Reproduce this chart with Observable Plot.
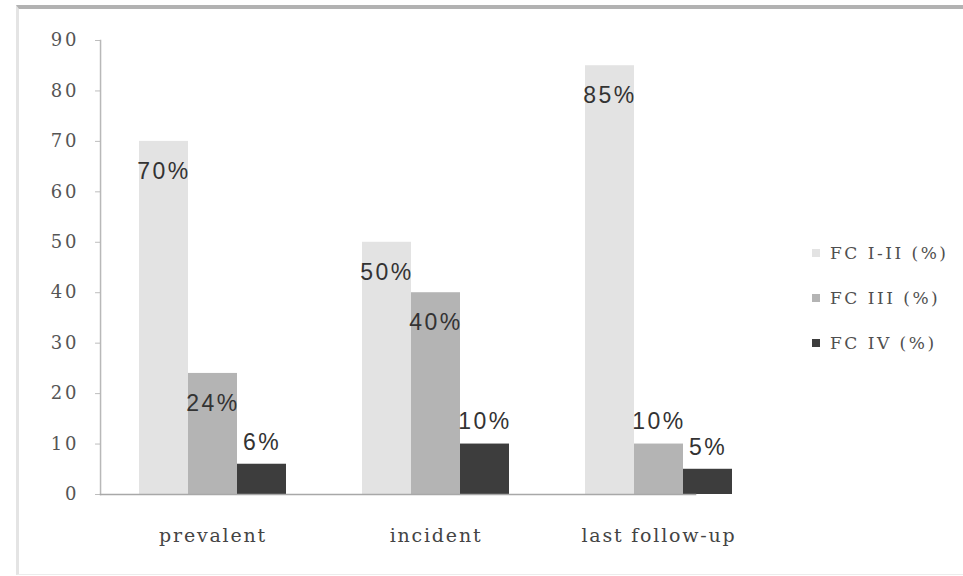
<!DOCTYPE html>
<html>
<head>
<meta charset="utf-8">
<script src="https://cdn.jsdelivr.net/npm/d3@7"></script>
<script src="https://cdn.jsdelivr.net/npm/@observablehq/plot@0.6"></script>
<style>
  html, body { margin: 0; padding: 0; background: #ffffff; }
  #chart {
    position: relative;
    width: 963px;
    height: 576px;
    overflow: hidden;
  }
  #border {
    position: absolute;
    left: 16px; top: 5px; right: 0; bottom: 1px;
    border-top: 4px solid #b2b2b2;
    border-left: 3px solid #e4e4e4;
    border-bottom: 1px solid #ececec;
    box-sizing: border-box;
  }
  #chart svg { position: absolute; left: 0; top: 0; }
  #chart g[aria-label="y-axis tick label"] text { letter-spacing: 3px; }
  #chart g[aria-label="fx-axis tick label"] text { letter-spacing: 1.8px; }
  #chart g.value-label text { letter-spacing: 2.5px; }
  #legend {
    position: absolute;
    left: 812px;
    top: 230px;
    font-family: "DejaVu Serif", serif;
    font-size: 17px;
    letter-spacing: 2.5px;
    color: #4f4f4f;
  }
  #legend .item { display: flex; align-items: center; height: 45px; }
  #legend .swatch { width: 8px; height: 8px; margin-right: 10px; }
</style>
</head>
<body>
<div id="chart"><div id="border"></div></div>
<script>
// Categories, series and values
const categories = ["prevalent", "incident", "last follow-up"];
const series = ["FC I-II (%)", "FC III (%)", "FC IV (%)"];
const fcI_II = [70, 50, 85];
const fcIII = [24, 40, 10];
const fcIV = [6, 10, 5];
const yTicks = [0, 10, 20, 30, 40, 50, 60, 70, 80, 90];
const seriesColors = ["#e3e3e3", "#b4b4b4", "#3d3d3d"];

// Long-format rows for the grouped bars
const seriesValues = [fcI_II, fcIII, fcIV];
const rows = [];
categories.forEach((category, i) => {
  series.forEach((s, j) => {
    rows.push({category, series: s, value: seriesValues[j][i]});
  });
});

// Layout
const width = 963, height = 576;
const margin = {left: 100, right: 191, top: 40, bottom: 82};
const fxPaddingInner = 0.33, fxPaddingOuter = 0.17;
// The y axis sits at the left edge of the whole frame, not of the first group
const fxStep = (width - margin.left - margin.right) /
  (categories.length - fxPaddingInner + 2 * fxPaddingOuter);
const firstGroupOffset = fxStep * fxPaddingOuter;

const labelFont = {fontFamily: "'Liberation Sans', Arial, sans-serif", fontSize: 23, fill: "#333333"};

const chart = Plot.plot({
  width, height,
  marginLeft: margin.left,
  marginRight: margin.right,
  marginTop: margin.top,
  marginBottom: margin.bottom,
  style: {background: "transparent"},
  fx: {domain: categories, paddingInner: fxPaddingInner, paddingOuter: fxPaddingOuter, axis: null, label: null},
  x: {domain: series, padding: 0, axis: null},
  y: {domain: [0, 90], axis: null},
  color: {domain: series, range: seriesColors},
  marks: [
    Plot.barY(rows, {fx: "category", x: "series", y: "value", fill: "series"}),
    // Labels inside the taller bars, above the short ones
    Plot.text(rows.filter(d => d.value >= 20), {
      fx: "category", x: "series", y: "value", text: d => `${d.value}%`,
      dy: 30, className: "value-label", ...labelFont
    }),
    Plot.text(rows.filter(d => d.value < 20), {
      fx: "category", x: "series", y: "value", text: d => `${d.value}%`,
      dy: -22, className: "value-label", ...labelFont
    }),
    Plot.axisFx({
      anchor: "bottom", tickSize: 0, tickPadding: 34, label: null,
      fontFamily: "'DejaVu Serif', serif", fontSize: 19, fill: "#444444"
    }),
    Plot.axisY({
      anchor: "left", ticks: yTicks, tickSize: 5, tickPadding: 16, dx: -firstGroupOffset,
      label: null, stroke: "#bdbdbd",
      fontFamily: "'DejaVu Serif', serif", fontSize: 18, fill: "#555555"
    }),
    // Axis lines spanning the whole frame
    Plot.frame({facet: "super", anchor: "left", dx: -firstGroupOffset, stroke: "#b8b8b8", strokeWidth: 1.5}),
    Plot.frame({facet: "super", anchor: "bottom", dx: -firstGroupOffset, stroke: "#a8a8a8", strokeWidth: 1.5})
  ]
});

const container = document.getElementById("chart");
container.appendChild(chart);

// Vertical legend at the right
const legend = document.createElement("div");
legend.id = "legend";
series.forEach((s, i) => {
  const item = document.createElement("div");
  item.className = "item";
  const sw = document.createElement("span");
  sw.className = "swatch";
  sw.style.background = seriesColors[i];
  const label = document.createElement("span");
  label.textContent = s;
  item.appendChild(sw);
  item.appendChild(label);
  legend.appendChild(item);
});
container.appendChild(legend);
</script>
</body>
</html>
